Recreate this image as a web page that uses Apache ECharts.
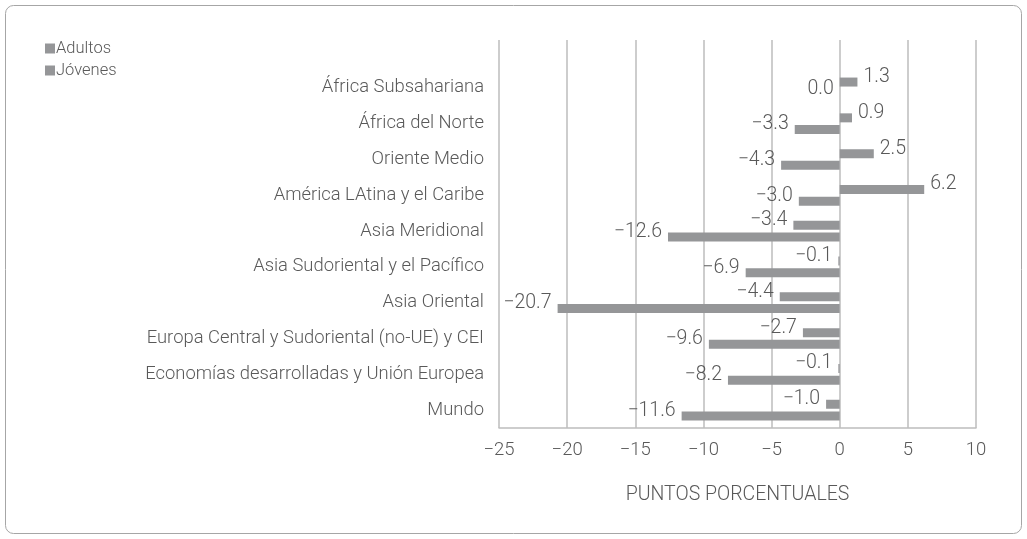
<!DOCTYPE html>
<html>
<head>
<meta charset="utf-8">
<script src="https://cdn.jsdelivr.net/npm/echarts@6/dist/echarts.min.js"></script>
<style>html,body{margin:0;padding:0;background:#fff}#c{width:1027px;height:539px}</style>
</head>
<body>
<div id="c"></div>
<script>
const categories = ["África Subsahariana","África del Norte","Oriente Medio","América LAtina y el Caribe","Asia Meridional","Asia Sudoriental y el Pacífico","Asia Oriental","Europa Central y Sudoriental (no-UE) y CEI","Economías desarrolladas y Unión Europea","Mundo"];
const adultos = [1.3, 0.9, 2.5, 6.2, -3.4, -0.1, -4.4, -2.7, -0.1, -1.0];
const jovenes = [0.0, -3.3, -4.3, -3.0, -12.6, -6.9, -20.7, -9.6, -8.2, -11.6];
const xTicks = {min: -25, max: 10, interval: 5};
const axisName = "PUNTOS PORCENTUALES";

const FONT = "Roboto";
const TXT = "#595959";
const BAR = "#959698";
const GRIDC = "#bdbdbd";
const fmtNum = v => (v < 0 ? "\u2212" : "") + Math.abs(v).toFixed(1);
const fmtTick = v => (v < 0 ? "\u2212" : "") + Math.abs(v);

function mkSeries(name, data) {
  return {
    name, type: 'bar', data: data.map(v => ({
      value: v,
      label: {position: v > 0 ? 'right' : 'left'}
    })),
    barWidth: 9, barGap: '30%',
    itemStyle: {color: BAR},
    label: {show: true, formatter: p => fmtNum(p.value), color: TXT, fontFamily: FONT, fontWeight: 300, fontSize: 19.5, distance: 6, offset: [0, -5]},
    xAxisIndex: 0, yAxisIndex: 0, silent: true
  };
}

const chart = echarts.init(document.getElementById('c'));
chart.setOption({
  animation: false,
  backgroundColor: '#fff',
  textStyle: {fontFamily: FONT},
  graphic: [{type: 'rect', shape: {x: 5.5, y: 5.5, width: 1016, height: 528, r: 8}, style: {fill: 'none', stroke: '#a6a6a6', lineWidth: 1}}],
  legend: {
    orient: 'vertical', left: 40, top: 35, itemWidth: 10, itemHeight: 10, itemGap: 5,
    icon: 'rect',
    textStyle: {color: TXT, fontFamily: FONT, fontWeight: 300, fontSize: 16.5, padding: [0,0,0,-4]},
    data: ['Adultos', 'Jóvenes']
  },
  grid: [
    {left: 499, right: 51, top: 70, bottom: 111, containLabel: false},
    {left: 499, right: 51, top: 40, height: 30, containLabel: false}
  ],
  xAxis: [
    {type: 'value', gridIndex: 0, min: xTicks.min, max: xTicks.max, interval: xTicks.interval,
     axisLine: {show: true, lineStyle: {color: GRIDC, width: 1.5}}, axisTick: {show: false},
     splitLine: {show: true, lineStyle: {color: GRIDC, width: 1.5}},
     axisLabel: {formatter: fmtTick, color: TXT, fontFamily: FONT, fontWeight: 300, fontSize: 18.5, margin: 13},
     name: axisName, nameLocation: 'middle', nameGap: 57,
     nameTextStyle: {color: TXT, fontFamily: FONT, fontWeight: 300, fontSize: 19.5}},
    {type: 'value', gridIndex: 1, min: xTicks.min, max: xTicks.max, interval: xTicks.interval,
     axisLine: {show: false}, axisTick: {show: false}, axisLabel: {show: false},
     splitLine: {show: true, lineStyle: {color: GRIDC, width: 1.5}}}
  ],
  yAxis: [
    {type: 'category', gridIndex: 0, data: categories, inverse: true,
     axisLine: {show: false}, axisTick: {show: false},
     axisLabel: {color: TXT, fontFamily: FONT, fontWeight: 300, fontSize: 18.4, margin: 15, padding: [0,0,7,0]},
     splitLine: {show: false}},
    {type: 'value', gridIndex: 1, show: false, min: 0, max: 1}
  ],
  series: [mkSeries('Adultos', adultos), mkSeries('Jóvenes', jovenes)]
});
</script>
</body>
</html>
